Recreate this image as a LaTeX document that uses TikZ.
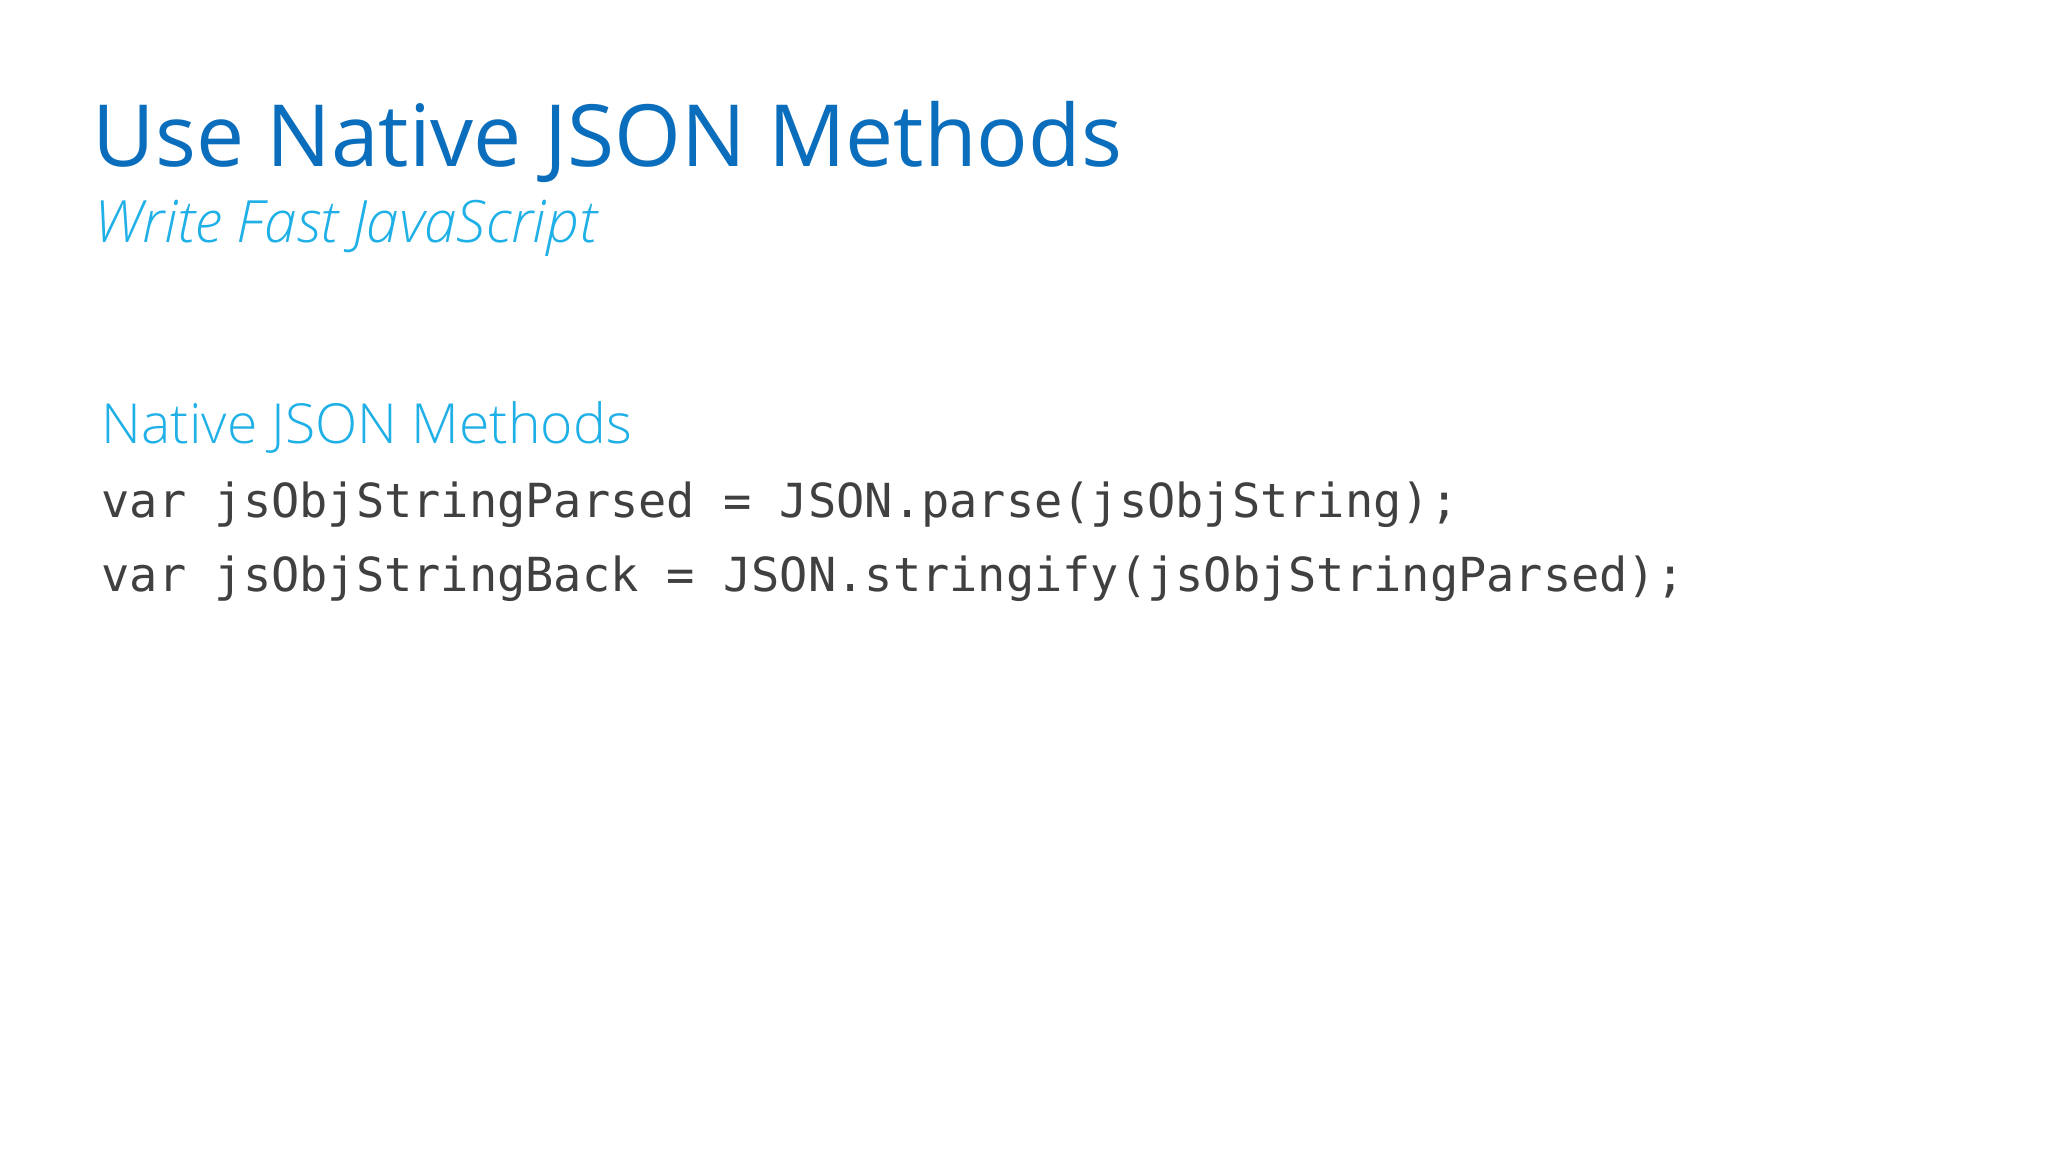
\documentclass[tikz,border=0pt]{standalone}
\usepackage{fontspec}
\setmainfont{Open Sans}
\newfontfamily\codefont{DejaVu Sans Mono}
\newfontfamily\lightfont{Open Sans Light}[ItalicFont={Open Sans Light Italic}]
\definecolor{titleblue}{HTML}{0A6EBD}
\definecolor{lightblue}{HTML}{1EB0E6}
\definecolor{codegray}{HTML}{404040}
\begin{document}
\begin{tikzpicture}[x=0.01cm,y=-0.01cm,
  txt/.style={anchor=base west,inner sep=0pt}]
\useasboundingbox[fill=white] (0,0) rectangle (2048,1152);
\node[txt,text=titleblue,font=\fontsize{24.4}{28}\selectfont] (title) at (92,167) {Use Native JSON Methods};
\node[txt,text=lightblue,font=\lightfont\itshape\fontsize{16.6}{20}\selectfont] (sub) at (94,243) {Write Fast JavaScript};
\node[txt,text=lightblue,font=\lightfont\fontsize{15.7}{19}\selectfont] (head) at (101,444) {Native JSON Methods};
\node[txt,text=codegray,font=\codefont\fontsize{13.35}{16}\selectfont] (c1) at (101,518) {var jsObjStringParsed = JSON.parse(jsObjString);};
\node[txt,text=codegray,font=\codefont\fontsize{13.35}{16}\selectfont] (c2) at (101,592) {var jsObjStringBack = JSON.stringify(jsObjStringParsed);};
\end{tikzpicture}
\end{document}
